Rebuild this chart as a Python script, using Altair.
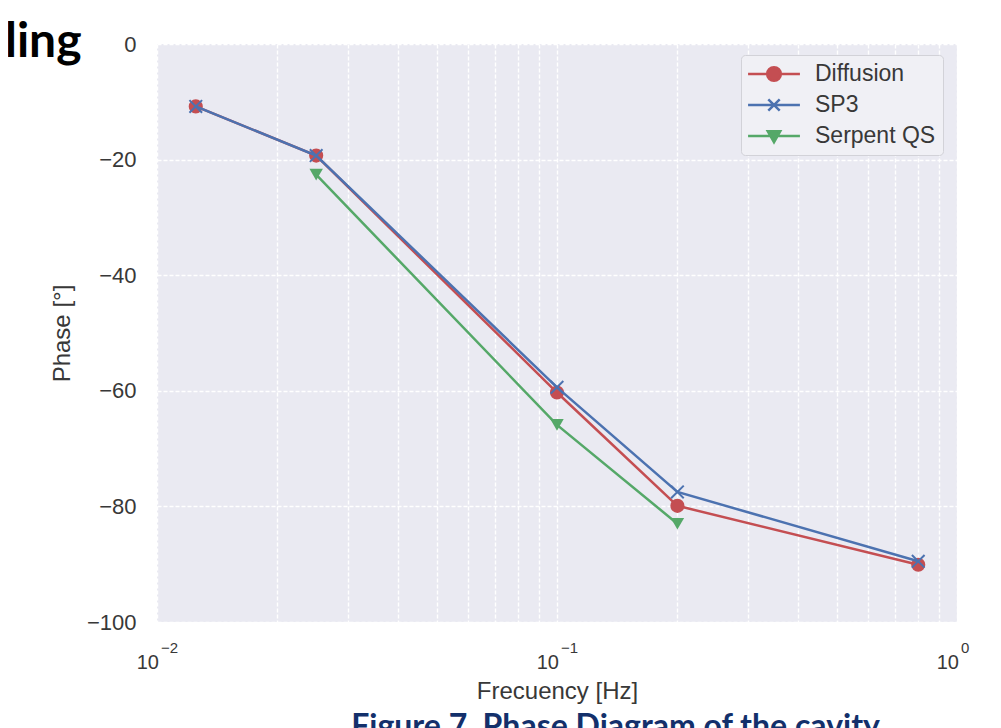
import altair as alt
import pandas as pd

series_names = ["Diffusion", "SP3", "Serpent QS"]
series_colors = ["#C44E52", "#4C72B0", "#55A868"]

diff_freq = [0.0125, 0.025, 0.1, 0.2, 0.8]
diff_phase = [-10.8, -19.3, -60.3, -79.9, -90.1]

sp3_freq = [0.0125, 0.025, 0.1, 0.2, 0.8]
sp3_phase = [-10.8, -19.3, -59.4, -77.5, -89.5]

serp_freq = [0.025, 0.1, 0.2]
serp_phase = [-22.6, -65.9, -83.0]

y_ticks = [-100, -80, -60, -40, -20, 0]
x_major = [0.01, 0.1, 1.0]
x_major_exp = ["\u22122", "\u22121", "0"]
x_grid = [m * d for d in [0.01, 0.1] for m in range(1, 10)] + [1.0]

rows = []
for f, p in zip(diff_freq, diff_phase):
    rows.append({"series": "Diffusion", "freq": f, "phase": p})
for f, p in zip(sp3_freq, sp3_phase):
    rows.append({"series": "SP3", "freq": f, "phase": p})
for f, p in zip(serp_freq, serp_phase):
    rows.append({"series": "Serpent QS", "freq": f, "phase": p})
df = pd.DataFrame(rows)

ticks_df = pd.DataFrame({"freq": x_major, "exp": x_major_exp, "base": ["10"] * 3})

W, H = 800, 578
FONT = "Liberation Sans"
TXT = "#383838"

xscale = alt.Scale(type="log", domain=[0.01, 1.0])
yscale = alt.Scale(domain=[-100, 0], nice=False)

X = alt.X("freq:Q", scale=xscale,
          axis=alt.Axis(values=x_grid, labels=False, ticks=False, domain=False,
                        grid=True, gridColor="white", gridDash=[4, 2], gridWidth=1.4,
                        title="Frecuency [Hz]", titleFont=FONT, titleFontSize=24,
                        titleFontWeight="normal", titleColor=TXT, titlePadding=57))
Y = alt.Y("phase:Q", scale=yscale,
          axis=alt.Axis(values=y_ticks, ticks=False, domain=False, labelPadding=21,
                        labelFont=FONT, labelFontSize=22, labelColor=TXT,
                        grid=True, gridColor="white", gridDash=[4, 2], gridWidth=1.4,
                        title="Phase [\u00b0]", titleFont=FONT, titleFontSize=24,
                        titleFontWeight="normal", titleColor=TXT, titlePadding=12))

base = alt.Chart(df)

marker_shapes = {
    "Diffusion": dict(shape="circle", filled=True, size=200),
    "SP3": dict(shape="M-1,-1L1,1M-1,1L1,-1", filled=False, size=160, strokeWidth=2),
    "Serpent QS": dict(shape="triangle-down", filled=True, size=180),
}

layers = []
for i, name in enumerate(series_names):
    col = series_colors[i]
    sub = base.transform_filter(alt.datum.series == name)
    line = sub.mark_line(strokeWidth=2.5, color=col).encode(x=X, y=Y)
    ms = marker_shapes[name]
    if ms["filled"]:
        pts = sub.mark_point(shape=ms["shape"], filled=True, size=ms["size"],
                             color=col, opacity=1).encode(x="freq:Q", y="phase:Q")
    else:
        pts = sub.mark_point(shape=ms["shape"], filled=False, size=ms["size"],
                             color=col, strokeWidth=ms["strokeWidth"], opacity=1).encode(
            x="freq:Q", y="phase:Q")
    layers += [line, pts]

# legend-only layer: no marks drawn (data filtered out), entries come from explicit domains
leg_paths = [
    "M-2.5,0H-0.66M0.66,0H2.5M-0.66,0A0.66,0.66 0 1,0 0.66,0A0.66,0.66 0 1,0 -0.66,0Z",
    "M-2.5,0H2.5M-0.55,-0.55L0.55,0.55M-0.55,0.55L0.55,-0.55",
    "M-2.5,0H2.5M-0.6,-0.45L0.6,-0.45L0,0.6Z",
]
legend = alt.Legend(title=None, orient="none", legendX=584, legendY=11,
                    labelFont=FONT, labelFontSize=23, labelColor=TXT,
                    symbolSize=430, symbolStrokeWidth=2.5, symbolOffset=14,
                    labelOffset=29, rowPadding=7, padding=7,
                    fillColor="#F0F0F5", strokeColor="#D2D2D8", cornerRadius=4)
leg_layer = base.transform_filter("false").mark_point(filled=True, opacity=1).encode(
    x="freq:Q", y="phase:Q",
    fill=alt.Fill("series:N", scale=alt.Scale(domain=series_names, range=series_colors),
                  legend=legend),
    stroke=alt.Stroke("series:N", scale=alt.Scale(domain=series_names, range=series_colors),
                      legend=legend),
    shape=alt.Shape("series:N", scale=alt.Scale(domain=series_names, range=leg_paths),
                    legend=legend),
)
layers.append(leg_layer)

tick_base = alt.Chart(ticks_df)
tick10 = tick_base.mark_text(align="right", baseline="alphabetic", font=FONT,
                             fontSize=20, color=TXT, dx=2).encode(
    x=alt.X("freq:Q", scale=xscale), y=alt.value(H + 47), text="base:N")
tickexp = tick_base.mark_text(align="left", baseline="alphabetic", font=FONT,
                              fontSize=15, color=TXT, dx=4).encode(
    x=alt.X("freq:Q", scale=xscale), y=alt.value(H + 31), text="exp:N")

deco = pd.DataFrame({"t": ["ling"]})
ling = alt.Chart(deco).mark_text(align="left", baseline="alphabetic", font="Lato",
                                 fontWeight="bold", fontSize=48, color="black").encode(
    x=alt.value(-152), y=alt.value(13), text="t:N")
cap = pd.DataFrame({"t": ["Figure 7. Phase Diagram of the cavity"]})
caption = alt.Chart(cap).mark_text(align="right", baseline="alphabetic", font="Lato",
                                   fontWeight="bold", fontSize=32, color="#13306b").encode(
    x=alt.value(723), y=alt.value(H + 115), text="t:N")

chart = alt.layer(*layers, tick10, tickexp, ling, caption).properties(
    width=W, height=H,
    autosize=alt.AutoSizeParams(type="none"),
    padding={"left": 149, "top": 36, "right": 36, "bottom": 130},
).configure(background="white").configure_view(fill="#EAEAF2", strokeWidth=0)

chart.save("out.html", embed_options={"renderer": "svg", "actions": False})
